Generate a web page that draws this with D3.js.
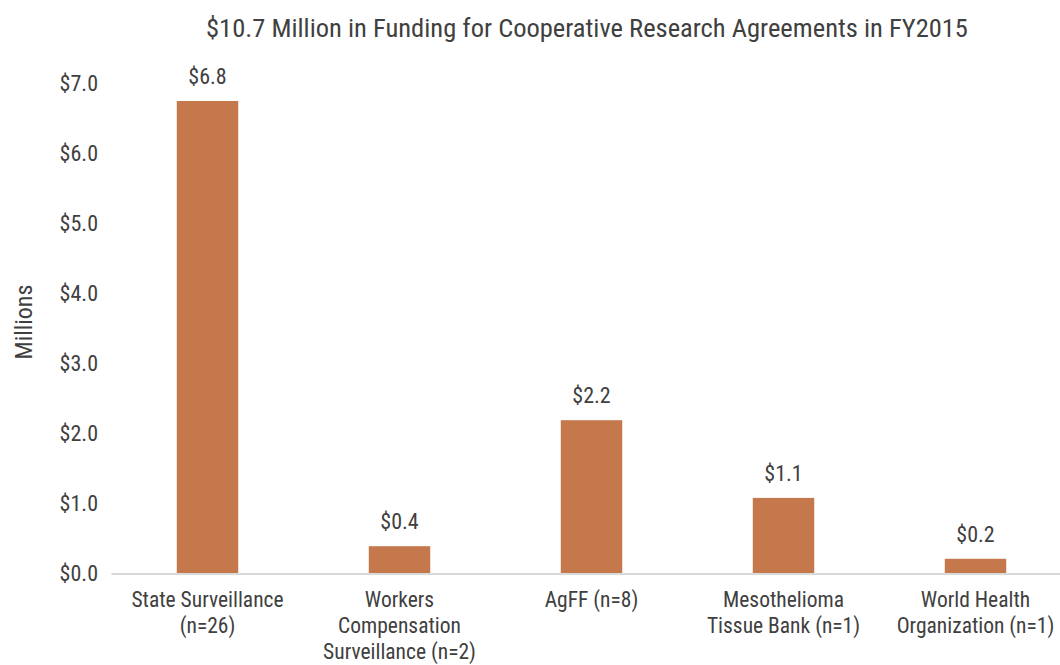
<!DOCTYPE html>
<html><head><meta charset="utf-8">
<script src="https://cdn.jsdelivr.net/npm/d3@7"></script>
<style>
body{margin:0;background:#fff;}
text{font-family:"Liberation Sans Narrow","Arial Narrow","Roboto Condensed",sans-serif;fill:#404040;}
</style></head><body>
<svg id="c" width="1060" height="665"></svg>
<script>
const categories = [
  ["State Surveillance","(n=26)"],
  ["Workers","Compensation","Surveillance (n=2)"],
  ["AgFF (n=8)"],
  ["Mesothelioma","Tissue Bank (n=1)"],
  ["World Health","Organization (n=1)"]
];
const values = [6.75, 0.39, 2.19, 1.08, 0.21];
const valueLabels = ["$6.8","$0.4","$2.2","$1.1","$0.2"];
const yTicks = [0,1,2,3,4,5,6,7];
const title = "$10.7 Million in Funding for Cooperative Research Agreements in FY2015";
const yTitle = "Millions";

const svg = d3.select("#c");
const x = d3.scaleBand().domain(d3.range(categories.length)).range([111.5,1071.5]).paddingInner(0.68).paddingOuter(0.34);
const y = d3.scaleLinear().domain([0,7]).range([573.5,83.5]);

svg.append("text").attr("x",587).attr("y",37).attr("text-anchor","middle").style("font-size","26.5px").text(title);

const ya = svg.append("g").attr("transform","translate(98,0)")
  .call(d3.axisLeft(y).tickValues(yTicks).tickFormat(d=>"$"+d3.format(".1f")(d)).tickSize(0).tickPadding(0));
ya.select(".domain").remove();
ya.selectAll("text").style("font-size","22px").style("font-family",null).attr("fill",null);

svg.append("text").attr("transform","translate(32,322) rotate(-90)").attr("text-anchor","middle").style("font-size","24px").text(yTitle);

svg.selectAll("rect.bar").data(values).join("rect").attr("class","bar")
  .attr("x",(d,i)=>x(i)).attr("width",x.bandwidth())
  .attr("y",d=>y(d)).attr("height",d=>y(0)-y(d)).attr("fill","#C4784C");

svg.append("line").attr("x1",111.5).attr("x2",1060).attr("y1",574).attr("y2",574).attr("stroke","#d9d9d9").attr("stroke-width",2);

svg.selectAll("text.vl").data(values).join("text").attr("class","vl")
  .attr("x",(d,i)=>x(i)+x.bandwidth()/2).attr("y",d=>y(d)-17)
  .attr("text-anchor","middle").style("font-size","22px").text((d,i)=>valueLabels[i]);

const cl = svg.selectAll("text.cl").data(categories).join("text").attr("class","cl")
  .attr("text-anchor","middle").style("font-size","21.5px");
cl.selectAll("tspan").data((d,i)=>d.map(s=>({s,i}))).join("tspan")
  .attr("x",d=>x(d.i)+x.bandwidth()/2).attr("y",(d,j)=>607+j*26).text(d=>d.s);
</script></body></html>
